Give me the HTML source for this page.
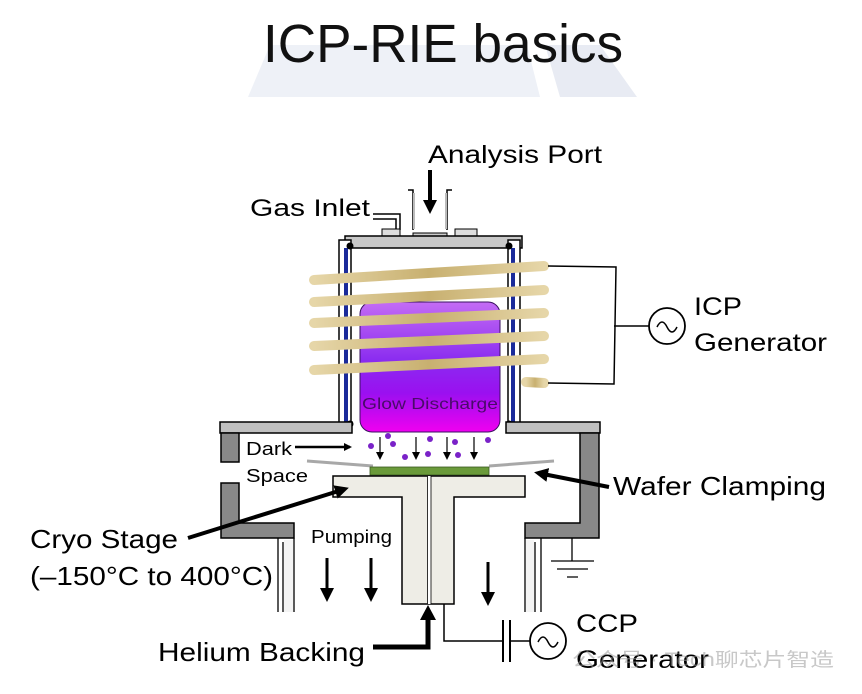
<!DOCTYPE html>
<html><head><meta charset="utf-8"><style>
html,body{margin:0;padding:0;background:#fff;}
svg{display:block;font-family:"Liberation Sans","Noto Sans CJK SC",sans-serif;}
</style></head><body>
<svg width="862" height="694" viewBox="0 0 862 694" xmlns="http://www.w3.org/2000/svg">
<defs>
<linearGradient id="glow" x1="0" y1="0" x2="0" y2="1">
<stop offset="0" stop-color="#c46cf4"/><stop offset="0.45" stop-color="#8a2cf0"/><stop offset="0.7" stop-color="#9a10f0"/><stop offset="1" stop-color="#f000f0"/>
</linearGradient>
<linearGradient id="coil" x1="0" y1="0" x2="1" y2="0">
<stop offset="0" stop-color="#e6d6a8"/><stop offset="0.5" stop-color="#c8b070"/><stop offset="1" stop-color="#e6d6a8"/>
</linearGradient>
<marker id="ah" markerWidth="8" markerHeight="8" refX="6" refY="4" orient="auto" markerUnits="userSpaceOnUse"><path d="M0,0 L8,4 L0,8z" fill="#000"/></marker>
<marker id="ahb" markerWidth="14" markerHeight="14" refX="10" refY="7" orient="auto" markerUnits="userSpaceOnUse"><path d="M0,0 L14,7 L0,14z" fill="#000"/></marker>
</defs>
<polygon points="270,45 527,45 540,97 248,97" fill="#eef1f7"/>
<polygon points="545,45 600,45 637,97 560,97" fill="#e8ebf3"/>
<text x="263" y="62" font-size="54" textLength="360" lengthAdjust="spacingAndGlyphs" fill="#111">ICP-RIE basics</text>

<text x="428" y="163" font-size="25" textLength="174" lengthAdjust="spacingAndGlyphs">Analysis Port</text>
<line x1="430" y1="170" x2="430" y2="210" stroke="#000" stroke-width="4" marker-end="url(#ahb)"/>
<text x="250" y="216" font-size="24" textLength="120" lengthAdjust="spacingAndGlyphs">Gas Inlet</text>
<path d="M408,190 L413,190 L413,230 M452,190 L447,190 L447,230" fill="none" stroke="#000" stroke-width="1.5"/>
<path d="M414,193 L414,229 M446,193 L446,229" stroke="#bbb" stroke-width="2"/>
<path d="M373,214 L400,214 L400,230 M373,219 L396,219 L396,230" fill="none" stroke="#000" stroke-width="1.5"/>
<rect x="382" y="229" width="18" height="7" fill="#ddd" stroke="#000"/>
<rect x="455" y="229" width="22" height="7" fill="#ddd" stroke="#000"/>
<rect x="413" y="233" width="34" height="4" fill="#ccc" stroke="#000"/>
<rect x="345" y="236" width="177" height="12" fill="#c8c8c8" stroke="#000" stroke-width="1.5"/>
<rect x="339" y="240" width="12" height="185" fill="#fff" stroke="#000" stroke-width="1.5"/>
<rect x="344" y="248" width="4" height="177" fill="#1a2a9a"/>
<rect x="508" y="240" width="12" height="185" fill="#fff" stroke="#000" stroke-width="1.5"/>
<rect x="511" y="248" width="4" height="177" fill="#1a2a9a"/>
<circle cx="350" cy="246" r="3.5"/><circle cx="509" cy="246" r="3.5"/>
<circle cx="350" cy="424" r="3.5"/><circle cx="509" cy="424" r="3.5"/>
<rect x="360" y="302" width="140" height="130" rx="12" fill="url(#glow)" stroke="#3a1060"/>
<text x="362" y="409" font-size="16" textLength="136" lengthAdjust="spacingAndGlyphs" fill="#4a0a6a">Glow Discharge</text>
<g stroke="url(#coil)" stroke-width="10" stroke-linecap="round" fill="none">
<line x1="314" y1="280" x2="544" y2="266"/>
<line x1="314" y1="302" x2="544" y2="290"/>
<line x1="314" y1="323" x2="544" y2="313"/>
<line x1="314" y1="346" x2="544" y2="336"/>
<line x1="314" y1="370" x2="544" y2="359"/>
<line x1="526" y1="382" x2="544" y2="383"/>
</g>
<path d="M548,266 L616,267 L614,384 L548,383 M614,326 L649,326" fill="none" stroke="#000" stroke-width="1.5"/>
<circle cx="667" cy="326" r="18" fill="#fff" stroke="#000" stroke-width="1.8"/>
<path d="M657,327 q5,-10 10,0 t10,0" fill="none" stroke="#000" stroke-width="1.5"/>
<text x="694" y="315" font-size="25" textLength="48" lengthAdjust="spacingAndGlyphs">ICP</text>
<text x="694" y="351" font-size="25" textLength="133" lengthAdjust="spacingAndGlyphs">Generator</text>
<rect x="220" y="422" width="132" height="11" fill="#c0c0c0" stroke="#000" stroke-width="1.5"/>
<rect x="506" y="422" width="94" height="11" fill="#c0c0c0" stroke="#000" stroke-width="1.5"/>
<rect x="221" y="433" width="18" height="29" fill="#888" stroke="#000" stroke-width="1.5"/>
<path d="M221,483 L239,483 L239,523 L294,523 L294,538 L221,538 Z" fill="#888" stroke="#000" stroke-width="1.5"/>
<path d="M580,433 L599,433 L599,538 L525,538 L525,523 L580,523 Z" fill="#888" stroke="#000" stroke-width="1.5"/>
<path d="M278,538 L278,612 M283,542 L283,612 M294,538 L294,612 M525,538 L525,612 M535,542 L535,612 M541,538 L541,612" stroke="#000" stroke-width="1.3"/>
<rect x="284" y="540" width="9" height="72" fill="#f4f4f4"/>
<rect x="526" y="540" width="8" height="72" fill="#f4f4f4"/>
<path d="M572,538 L572,561 M551,561 L594,561 M557,569 L588,569 M567,577 L578,577" stroke="#000" stroke-width="1.3"/>
<text x="246" y="455" font-size="18" textLength="46" lengthAdjust="spacingAndGlyphs">Dark</text>
<text x="246" y="482" font-size="18" textLength="62" lengthAdjust="spacingAndGlyphs">Space</text>
<line x1="295" y1="447" x2="350" y2="447" stroke="#000" stroke-width="2.5" marker-end="url(#ah)"/>
<g stroke="#000" stroke-width="1.2">
<line x1="380" y1="437" x2="380" y2="458" marker-end="url(#ah)"/>
<line x1="416" y1="437" x2="416" y2="458" marker-end="url(#ah)"/>
<line x1="447" y1="437" x2="447" y2="458" marker-end="url(#ah)"/>
<line x1="474" y1="437" x2="474" y2="458" marker-end="url(#ah)"/>
</g>
<g fill="#7a22c8">
<circle cx="388" cy="436" r="3"/><circle cx="371" cy="446" r="3"/><circle cx="393" cy="444" r="3"/><circle cx="405" cy="457" r="3"/><circle cx="430" cy="439" r="3"/><circle cx="428" cy="454" r="3"/><circle cx="455" cy="442" r="3"/><circle cx="458" cy="455" r="3"/><circle cx="488" cy="440" r="3"/>
</g>
<line x1="307" y1="461" x2="373" y2="466" stroke="#a8a8a8" stroke-width="3"/>
<line x1="489" y1="466" x2="554" y2="461" stroke="#a8a8a8" stroke-width="3"/>
<rect x="370" y="467" width="119" height="8" fill="#6a9a3a" stroke="#3a5a20" stroke-width="0.8"/>
<path d="M333,476 L525,476 L525,497 L454,497 L454,604 L402,604 L402,497 L333,497 Z" fill="#eeede6" stroke="#000" stroke-width="1.5"/>
<line x1="429" y1="476" x2="429" y2="604" stroke="#fff" stroke-width="3"/>
<path d="M427.5,476 L427.5,604 M431,476 L431,604" stroke="#000" stroke-width="0.8"/>
<text x="613" y="495" font-size="26" textLength="213" lengthAdjust="spacingAndGlyphs">Wafer Clamping</text>
<line x1="609" y1="487" x2="538" y2="473" stroke="#000" stroke-width="4" marker-end="url(#ahb)"/>
<text x="30" y="548" font-size="26" textLength="148" lengthAdjust="spacingAndGlyphs">Cryo Stage</text>
<text x="30" y="585" font-size="26" textLength="243" lengthAdjust="spacingAndGlyphs">(–150°C to 400°C)</text>
<line x1="188" y1="538" x2="345" y2="489" stroke="#000" stroke-width="4" marker-end="url(#ahb)"/>
<text x="311" y="543" font-size="18" textLength="81" lengthAdjust="spacingAndGlyphs">Pumping</text>
<g stroke="#000" stroke-width="3">
<line x1="327" y1="558" x2="327" y2="598" marker-end="url(#ahb)"/>
<line x1="371" y1="558" x2="371" y2="598" marker-end="url(#ahb)"/>
<line x1="488" y1="562" x2="488" y2="602" marker-end="url(#ahb)"/>
</g>
<text x="158" y="661" font-size="26" textLength="207" lengthAdjust="spacingAndGlyphs">Helium Backing</text>
<path d="M373,647 L428,647 L428,616" fill="none" stroke="#000" stroke-width="5"/>
<path d="M420,620 L428,605 L436,620 Z" fill="#000"/>
<path d="M444,604 L444,641 L503,641 M510,641 L530,641" fill="none" stroke="#000" stroke-width="1.5"/>
<path d="M503,620 L503,662 M510,620 L510,662" stroke="#000" stroke-width="2"/>
<circle cx="548" cy="641" r="18" fill="#fff" stroke="#000" stroke-width="1.8"/>
<path d="M538,642 q5,-10 10,0 t10,0" fill="none" stroke="#000" stroke-width="1.5"/>
<text x="576" y="632" font-size="25" textLength="62" lengthAdjust="spacingAndGlyphs">CCP</text>
<text x="576" y="668" font-size="25" textLength="133" lengthAdjust="spacingAndGlyphs">Generator</text>
<text x="572" y="666" font-size="19" fill="#9a9a9a" fill-opacity="0.55" textLength="262" lengthAdjust="spacingAndGlyphs">公众号 · Tech聊芯片智造</text>
</svg>
</body></html>
